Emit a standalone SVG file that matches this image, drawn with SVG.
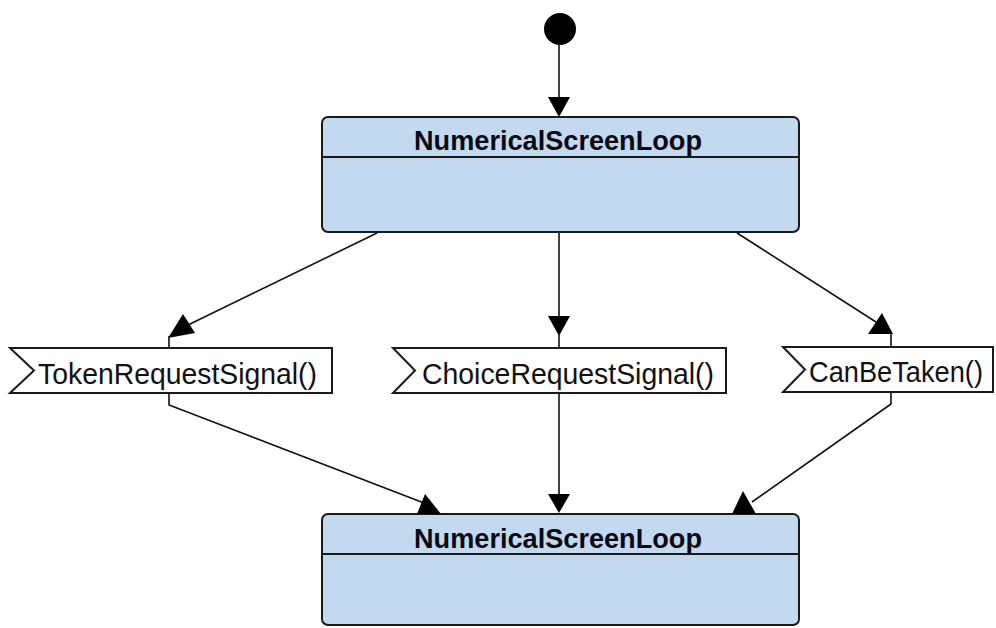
<svg xmlns="http://www.w3.org/2000/svg" width="996" height="628" viewBox="0 0 996 628">
<style>
.state{fill:#c3d9f0;stroke:#1a1a1a;stroke-width:2}
.sep{stroke:#1a1a1a;stroke-width:2}
.title{font-family:"Liberation Sans",Arial,sans-serif;font-weight:bold;font-size:27px;fill:#0a0a14}
.sig{fill:#ffffff;stroke:#1a1a1a;stroke-width:2}
.sigtext{font-family:"Liberation Sans",Arial,sans-serif;font-size:29px;fill:#111}
.conn{stroke:#111;stroke-width:1.6;fill:none}
.head{fill:#000;stroke:none}
</style>
<rect width="996" height="628" fill="#ffffff"/>
<g id="initial">
<circle cx="560" cy="29" r="16" fill="#000"/>
</g>
<g id="state-top">
<rect class="state" x="322" y="117" width="477" height="115" rx="6"/>
<line class="sep" x1="322" y1="157" x2="799" y2="157"/>
<text class="title" x="558" y="150" text-anchor="middle" textLength="288" lengthAdjust="spacingAndGlyphs">NumericalScreenLoop</text>
</g>
<g id="signal-token">
<polygon class="sig" points="10,348 332,348 332,393 10,393 34,370.5"/>
<text class="sigtext" x="38" y="384" textLength="279" lengthAdjust="spacingAndGlyphs">TokenRequestSignal()</text>
</g>
<g id="signal-choice">
<polygon class="sig" points="393,348 726,348 726,393 393,393 415,370.5"/>
<text class="sigtext" x="422" y="384" textLength="292" lengthAdjust="spacingAndGlyphs">ChoiceRequestSignal()</text>
</g>
<g id="signal-canbetaken">
<polygon class="sig" points="783,347 993,347 993,392 783,392 805,369.5"/>
<text class="sigtext" x="809" y="382" textLength="174" lengthAdjust="spacingAndGlyphs">CanBeTaken()</text>
</g>
<g id="state-bottom">
<rect class="state" x="322" y="514" width="477" height="111" rx="6"/>
<line class="sep" x1="322" y1="554" x2="799" y2="554"/>
<text class="title" x="558" y="548" text-anchor="middle" textLength="288" lengthAdjust="spacingAndGlyphs">NumericalScreenLoop</text>
</g>
<g id="connectors">
<line class="conn" x1="559" y1="45" x2="559" y2="99"/>
<polygon class="head" points="548,97 570,97 559,117"/>
<polyline class="conn" points="377,233 188,325"/>
<polygon class="head" points="183,314 168,338 195,333"/>
<line class="conn" x1="169" y1="336" x2="169" y2="348"/>
<line class="conn" x1="559" y1="233" x2="559" y2="318"/>
<polygon class="head" points="548,316 570,316 559,336"/>
<line class="conn" x1="559" y1="335" x2="559" y2="348"/>
<polyline class="conn" points="737,233 876,322"/>
<polygon class="head" points="882,313 868,334 893,334"/>
<line class="conn" x1="891" y1="333" x2="891" y2="347"/>
<polyline class="conn" points="169,393 169,405 424,503"/>
<polygon class="head" points="425,494 417,514 441,514"/>
<line class="conn" x1="559" y1="393" x2="559" y2="496"/>
<polygon class="head" points="548,494 570,494 559,513"/>
<polyline class="conn" points="891,392 891,404 752,502"/>
<polygon class="head" points="743,491 732,514 756,514"/>
</g>
</svg>
